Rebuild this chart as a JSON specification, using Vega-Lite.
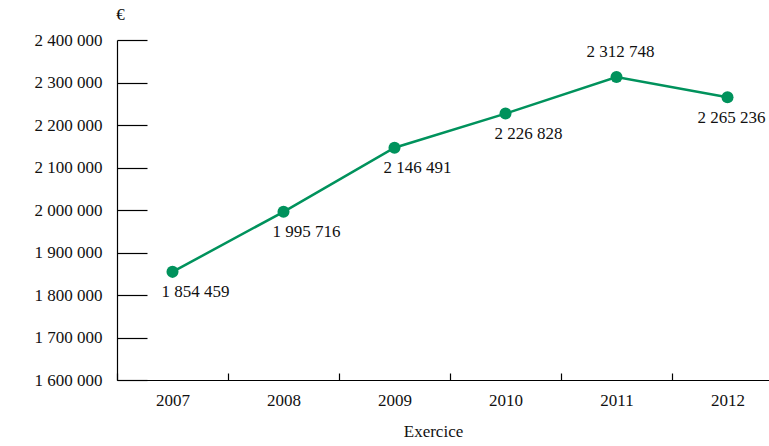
{
  "$schema": "https://vega.github.io/schema/vega-lite/v6.json",
  "width": 666,
  "height": 340,
  "autosize": {"type": "none"},
  "padding": {"left": 117, "top": 40, "right": 0, "bottom": 66},
  "background": "white",
  "config": {
    "view": {"stroke": null},
    "font": "Liberation Serif",
    "locale": {"number": {"decimal": ",", "thousands": " ", "grouping": [3], "currency": ["", " €"]}},
    "axis": {"domainColor": "#000", "tickColor": "#000", "labelColor": "#111", "titleColor": "#111", "labelFont": "Liberation Serif", "titleFont": "Liberation Serif", "labelFontSize": 17, "titleFontSize": 17, "titleFontWeight": "normal", "grid": false, "domainWidth": 1.2, "tickWidth": 1.2}
  },
  "data": {"values": [
    {"year": "2007", "value": 1854459},
    {"year": "2008", "value": 1995716},
    {"year": "2009", "value": 2146491},
    {"year": "2010", "value": 2226828},
    {"year": "2011", "value": 2312748},
    {"year": "2012", "value": 2265236}
  ]},
  "encoding": {
    "x": {"field": "year", "type": "ordinal", "scale": {"type": "band", "paddingInner": 0, "paddingOuter": 0},
      "axis": {"title": "Exercice", "labelAngle": 0, "tickBand": "extent", "tickSize": -7, "labelPadding": 19, "titleX": 316, "titleY": 60, "titleAlign": "center", "titleBaseline": "bottom"}},
    "y": {"field": "value", "type": "quantitative", "scale": {"domain": [1600000, 2400000], "nice": false, "zero": false},
      "axis": {"title": "€", "titleAngle": 0, "titleX": 3, "titleY": -17, "titleAlign": "center", "titleBaseline": "bottom", "values": [1600000, 1700000, 1800000, 1900000, 2000000, 2100000, 2200000, 2300000, 2400000], "format": ",d", "tickSize": -30, "labelPadding": 45}}
  },
  "layer": [
    {"mark": {"type": "line", "color": "#00925C", "strokeWidth": 2.5}},
    {"mark": {"type": "circle", "color": "#00925C", "size": 145, "opacity": 1}},
    {"transform": [{"filter": "datum.year <= '2010'"}],
     "mark": {"type": "text", "align": "left", "baseline": "middle", "dx": -11, "dy": 20, "fontSize": 17, "color": "#111"},
     "encoding": {"text": {"field": "value", "type": "quantitative", "format": ",d"}}},
    {"transform": [{"filter": "datum.year == '2011'"}],
     "mark": {"type": "text", "align": "center", "baseline": "middle", "dx": 4, "dy": -25, "fontSize": 17, "color": "#111"},
     "encoding": {"text": {"field": "value", "type": "quantitative", "format": ",d"}}},
    {"transform": [{"filter": "datum.year == '2012'"}],
     "mark": {"type": "text", "align": "center", "baseline": "middle", "dx": 4, "dy": 21, "fontSize": 17, "color": "#111"},
     "encoding": {"text": {"field": "value", "type": "quantitative", "format": ",d"}}}
  ]
}
